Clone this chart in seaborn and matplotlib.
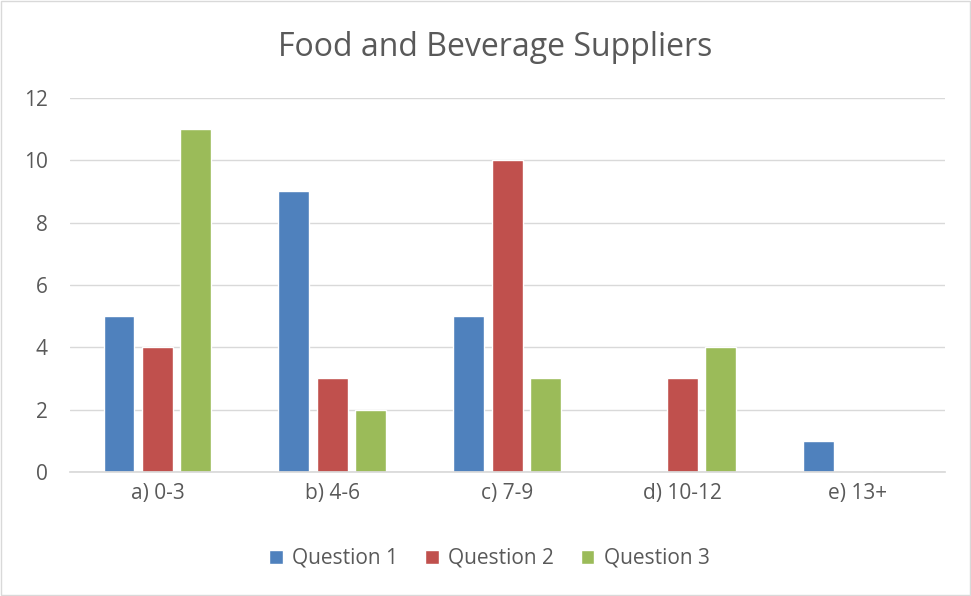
import pandas as pd
import seaborn as sns
import matplotlib.pyplot as plt
from matplotlib.patches import Rectangle

# data
categories = ["a) 0-3", "b) 4-6", "c) 7-9", "d) 10-12", "e) 13+"]
series = ["Question 1", "Question 2", "Question 3"]
question_1 = [5, 9, 5, 0, 1]
question_2 = [4, 3, 10, 3, 0]
question_3 = [11, 2, 3, 4, 0]

colors = ["#4F81BD", "#C0504D", "#9BBB59"]

rows = []
for name, vals in zip(series, [question_1, question_2, question_3]):
    for cat, v in zip(categories, vals):
        rows.append({"category": cat, "series": name, "value": v})
df = pd.DataFrame(rows)

sns.set_theme(style="white")
plt.rcParams["font.family"] = ["Open Sans", "DejaVu Sans"]

fig = plt.figure(figsize=(9.71, 5.96), dpi=100)
ax = fig.add_axes([0.072, 0.208, 0.901, 0.628])

sns.barplot(data=df, x="category", y="value", hue="series", palette=colors,
            width=0.66, gap=0.2, ax=ax, saturation=1, legend=True)

ax.set_ylim(0, 12)
ax.set_yticks(range(0, 13, 2))
ax.grid(axis="y", color="#D9D9D9", linewidth=1)
ax.set_axisbelow(True)
for s in ["top", "right", "left"]:
    ax.spines[s].set_visible(False)
ax.spines["bottom"].set_color("#D9D9D9")
ax.tick_params(axis="x", length=0, labelsize=15, colors="#595959", pad=8)
ax.tick_params(axis="y", length=0, labelsize=15, colors="#595959", pad=16)
ax.set_xlabel("")
ax.set_ylabel("")

fig.text(0.51, 0.921, "Food and Beverage Suppliers", ha="center", va="center",
         fontsize=23, color="#595959")

ax.legend_.remove()
handles, labels = ax.get_legend_handles_labels()
fig.legend(handles, labels, loc="center", bbox_to_anchor=(0.504, 0.063), ncol=3,
           frameon=False, fontsize=15, handlelength=0.65, handleheight=0.65,
           columnspacing=1.3, handletextpad=0.45, labelcolor="#595959")

fig.patches.append(Rectangle((0.001, 0.001), 0.998, 0.998, transform=fig.transFigure,
                             fill=False, edgecolor="#D9D9D9", linewidth=1))

fig.savefig("out.png", dpi=100)
